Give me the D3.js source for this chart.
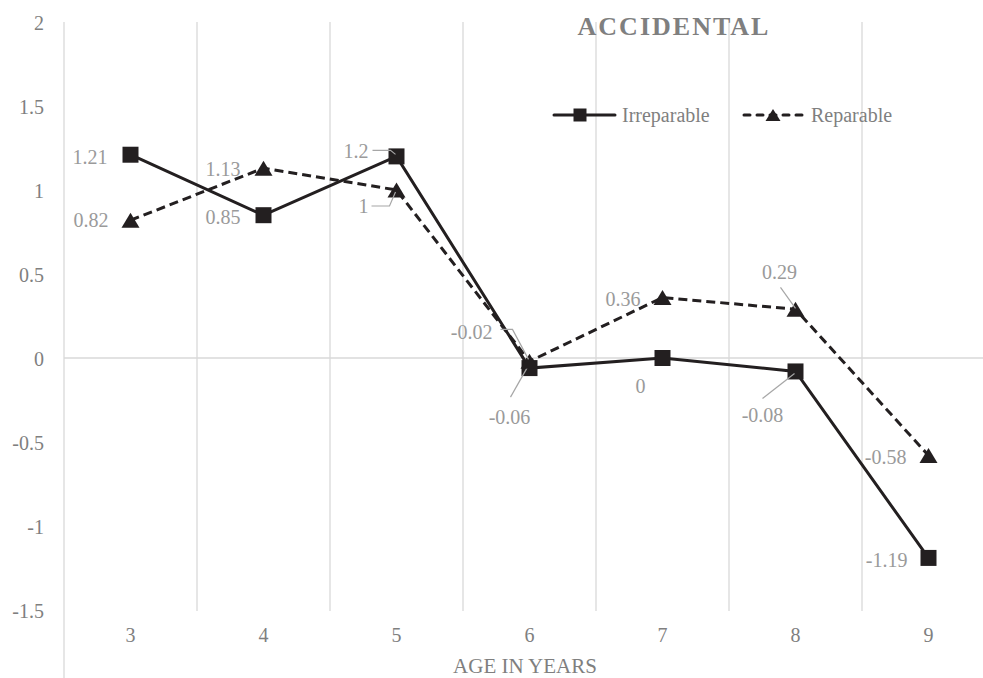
<!DOCTYPE html>
<html lang="en">
<head>
  <meta charset="UTF-8" />
  <title>Accidental</title>
  <style>
    body { margin: 0; background: #fff; }
    svg { display: block; font-family: "Liberation Serif", "Times New Roman", serif; }
  </style>
</head>
<body>
  <svg id="chart" width="983" height="678"></svg>
  <script src="https://d3js.org/d3.v7.min.js"></script>
  <script>
    const ages = [3, 4, 5, 6, 7, 8, 9];
    const irreparable = [1.21, 0.85, 1.2, -0.06, 0, -0.08, -1.19];
    const reparable = [0.82, 1.13, 1, -0.02, 0.36, 0.29, -0.58];
    const yTicks = [2, 1.5, 1, 0.5, 0, -0.5, -1, -1.5];

    // label offsets relative to the point: [dx, dy, anchor, leader points]
    const irrLabels = [
      [-23, 2, "end"], [-23, 2, "end"], [-28, -5, "end", [[-24, -6], [-6, -6], [-1, -2]]],
      [-20, 49, "middle", [[-19, 29], [-2, -1]]], [-22, 28, "middle"],
      [-33, 44, "middle", [[-33, 27], [-1, 2]]], [-21, 2, "end"]
    ];
    const repLabels = [
      [-22, 0, "end"], [-23, 1, "end"], [-28, 16, "end", [[-25, 16], [-7, 16], [-1, 2]]],
      [-37, -29, "end", [[-29, -32], [-17, -32], [-1, -2]]], [-22, 1, "end"],
      [-16, -37, "middle", [[-15, -22], [0, -1]]], [-22, 2, "end"]
    ];

    const svg = d3.select("#chart");
    const x = d3.scaleBand().domain(ages).range([64, 995]).padding(0);
    const y = d3.scaleLinear().domain([-1.5, 2]).range([610, 22]);
    const cx = d => x(d) + x.bandwidth() / 2;

    // triangle centred on its bounding box, like the spreadsheet marker
    const tri = (w, h) => `M0,${-h / 2}L${w / 2},${h / 2}L${-w / 2},${h / 2}Z`;

    // vertical gridlines
    svg.append("g").selectAll("line")
      .data(ages)
      .join("line")
      .attr("x1", d => x(d) + x.bandwidth())
      .attr("x2", d => x(d) + x.bandwidth())
      .attr("y1", 22).attr("y2", 611)
      .attr("stroke", "#d9d9d9").attr("stroke-width", 1.3);

    // zero line and y axis line
    svg.append("line").attr("x1", 64).attr("x2", 983)
      .attr("y1", y(0)).attr("y2", y(0))
      .attr("stroke", "#d9d9d9").attr("stroke-width", 1.3);
    svg.append("line").attr("x1", 64).attr("x2", 64)
      .attr("y1", 22).attr("y2", 678)
      .attr("stroke", "#d9d9d9").attr("stroke-width", 1.3);

    // y tick labels
    svg.append("g").selectAll("text")
      .data(yTicks)
      .join("text")
      .attr("x", 44).attr("y", d => y(d) + 8)
      .attr("text-anchor", "end")
      .attr("font-size", 20).attr("fill", "#7f7f7f")
      .text(d => d);

    // x tick labels
    svg.append("g").selectAll("text")
      .data(ages)
      .join("text")
      .attr("x", cx).attr("y", 642)
      .attr("text-anchor", "middle")
      .attr("font-size", 20).attr("fill", "#7f7f7f")
      .text(d => d);

    svg.append("text").attr("x", 525).attr("y", 673)
      .attr("text-anchor", "middle").attr("font-size", 21).attr("fill", "#7f7f7f")
      .text("AGE IN YEARS");

    svg.append("text").attr("x", 674).attr("y", 35)
      .attr("text-anchor", "middle").attr("font-size", 26).attr("font-weight", "bold")
      .attr("letter-spacing", 2).attr("fill", "#7f7f7f")
      .text("ACCIDENTAL");

    const line = d3.line().x((d, i) => cx(ages[i])).y(d => y(d));

    function series(values, dash, marker, labels) {
      const g = svg.append("g");
      g.append("path").datum(values)
        .attr("d", line).attr("fill", "none")
        .attr("stroke", "#231f20").attr("stroke-width", 3)
        .attr("stroke-dasharray", dash);
      g.selectAll("path.m").data(values).join("path")
        .attr("class", "m")
        .attr("transform", (d, i) => `translate(${cx(ages[i])},${y(d)})`)
        .attr("d", marker)
        .attr("fill", "#231f20");
      values.forEach((v, i) => {
        const px = cx(ages[i]), py = y(v);
        const [dx, dy, anchor, leader] = labels[i];
        if (leader) {
          g.append("polyline")
            .attr("points", leader.map(p => `${px + p[0]},${py + p[1]}`).join(" "))
            .attr("fill", "none").attr("stroke", "#a6a6a6").attr("stroke-width", 1.2);
        }
        g.append("text").attr("x", px + dx).attr("y", py + dy + 7)
          .attr("text-anchor", anchor)
          .attr("font-size", 20).attr("fill", "#9a9a9a")
          .text(v);
      });
    }

    series(irreparable, null, d3.symbol().type(d3.symbolSquare).size(256)(), irrLabels);
    series(reparable, "9,5", tri(18, 15), repLabels);

    // legend
    const legend = svg.append("g").attr("transform", "translate(0,115)");
    legend.append("line").attr("x1", 554).attr("x2", 615).attr("y1", 0).attr("y2", 0)
      .attr("stroke", "#231f20").attr("stroke-width", 3).attr("stroke-linecap", "round");
    legend.append("path").attr("transform", "translate(580,0)")
      .attr("d", d3.symbol().type(d3.symbolSquare).size(169)).attr("fill", "#231f20");
    legend.append("text").attr("x", 622).attr("y", 7)
      .attr("font-size", 20).attr("fill", "#7f7f7f").text("Irreparable");
    legend.append("line").attr("x1", 744).attr("x2", 802).attr("y1", 0).attr("y2", 0)
      .attr("stroke", "#231f20").attr("stroke-width", 3).attr("stroke-linecap", "round")
      .attr("stroke-dasharray", "6,7");
    legend.append("path").attr("transform", "translate(773,0)")
      .attr("d", tri(15, 12)).attr("fill", "#231f20");
    legend.append("text").attr("x", 811).attr("y", 7)
      .attr("font-size", 20).attr("fill", "#7f7f7f").text("Reparable");
  </script>
</body>
</html>
